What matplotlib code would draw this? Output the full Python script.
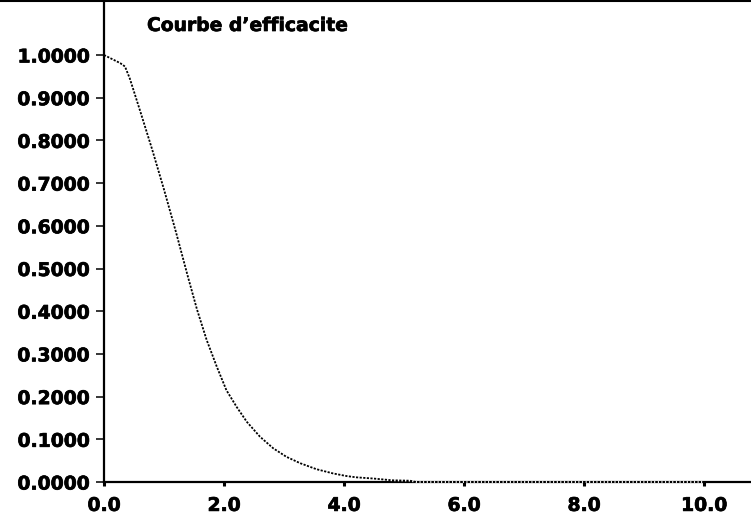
import matplotlib
matplotlib.use("Agg")
import matplotlib.pyplot as plt
from matplotlib.lines import Line2D
import matplotlib.patheffects as pe

# Data (efficiency curve)
x_vals = [0.0, 0.27, 0.35, 0.43, 0.60, 0.80, 1.00, 1.20, 1.40, 1.55,
          1.71, 1.88, 2.04, 2.21, 2.38, 2.60, 2.82, 3.04,
          3.27, 3.54, 3.82, 4.04, 4.20, 4.50, 4.80, 5.10, 5.20, 10.0]
y_vals = [1.0, 0.981, 0.973, 0.945, 0.870, 0.780, 0.685, 0.585, 0.480, 0.404,
          0.333, 0.270, 0.215, 0.176, 0.141, 0.106, 0.079, 0.059,
          0.044, 0.030, 0.020, 0.014, 0.011, 0.008, 0.004, 0.003, 0.0, 0.0]
x_ticks = [0, 2, 4, 6, 8, 10]
y_ticks = [0.0, 0.1, 0.2, 0.3, 0.4, 0.5, 0.6, 0.7, 0.8, 0.9, 1.0]
title = "Courbe d\u2019efficacite"

W, H, DPI = 751, 530, 100
fig = plt.figure(figsize=(W / DPI, H / DPI), dpi=DPI)
fig.patch.set_facecolor("white")

left_px, bottom_px = 104, 482
ax = fig.add_axes([left_px / W, (H - bottom_px) / H, (W - left_px) / W, bottom_px / H])
ax.set_xlim(0, (W - left_px) / 60.0)
ax.set_ylim(0, bottom_px / 427.0)

font = dict(family="DejaVu Sans", weight="bold", size=13.5)
bold_fx = [pe.withStroke(linewidth=0.5, foreground="black")]

ax.plot(x_vals, y_vals, color="black", lw=1.3, linestyle=(0, (1.2, 0.8)),
        gapcolor="white", zorder=5, clip_on=False)

for s in ["top", "right"]:
    ax.spines[s].set_visible(False)
for s in ["left", "bottom"]:
    ax.spines[s].set_linewidth(1.6)
    ax.spines[s].set_color("black")

ax.set_yticks(y_ticks)
ax.set_yticklabels([f"{v:.4f}" for v in y_ticks], fontdict=font)
ax.set_xticks(x_ticks)
ax.set_xticklabels([f"{v:.1f}" for v in x_ticks], fontdict=font)
for lab in ax.get_xticklabels() + ax.get_yticklabels():
    lab.set_path_effects(bold_fx)
ax.tick_params(axis="y", direction="out", length=6, width=1.1, pad=4.5, colors="black")
ax.tick_params(axis="x", direction="out", length=3, width=2.2, pad=7.0, colors="black")

t = ax.text(147, H - 31, title, transform=None, ha="left", va="baseline", **font)
t.set_path_effects(bold_fx)

# scanned border line at the very top
fig.add_artist(Line2D([0, 1], [1 - 1.0 / H, 1 - 1.0 / H], color="black", lw=1.5,
                      transform=fig.transFigure))

fig.savefig("out.png", dpi=DPI, facecolor="white")
